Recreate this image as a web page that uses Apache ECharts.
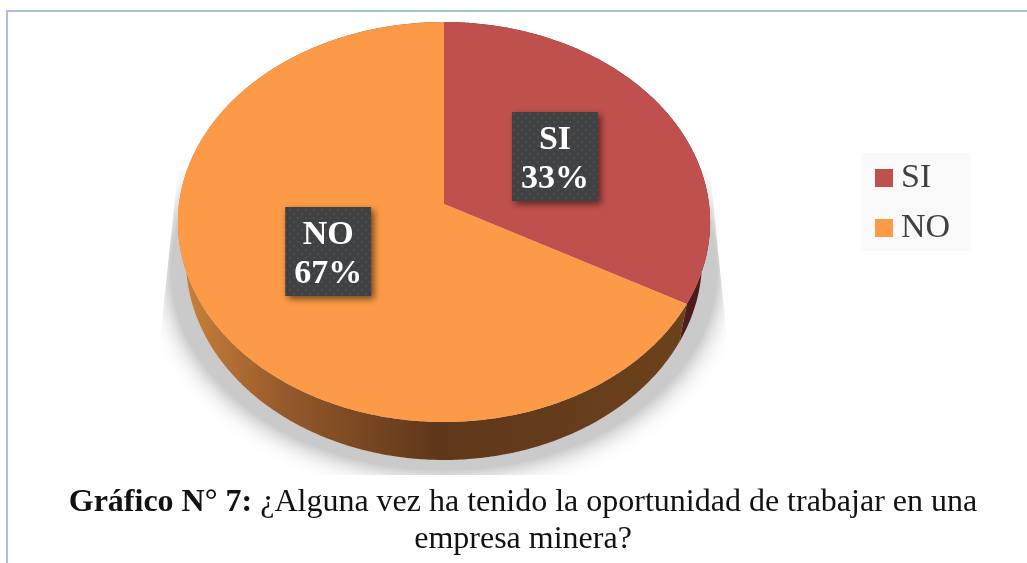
<!DOCTYPE html>
<html>
<head>
<meta charset="utf-8">
<style>
  html, body { margin: 0; padding: 0; background: #fff; }
  #main { width: 1027px; height: 563px; }
</style>
<script src="https://cdn.jsdelivr.net/npm/echarts@6/dist/echarts.min.js"></script>
</head>
<body>
<div id="main"></div>
<script>
// datos
const categories = ['SI', 'NO'];
const percentValues = [33, 67];
const sliceColors = ['#c0504d', '#fd9a47'];
const captionBold = 'Gráfico N° 7:';
const captionLine1 = '¿Alguna vez ha tenido la oportunidad de trabajar en una';
const captionLine2 = 'empresa minera?';

const total = percentValues.reduce(function (a, b) { return a + b; }, 0);
const SERIF = '"Liberation Serif", "Times New Roman", serif';

// pastel inclinado: circulo unidad proyectado con perspectiva
const cx = 444, apexY = 204, scaleX = 265, scaleY = 180, persp = 0.09;
const depth = 38, lowerScaleX = 257;

function project(u, v, sx, dy) {
    let d = 1 - persp * v;
    return [cx + sx * u / d, apexY + dy + scaleY * v / d + 204 * (1 / d - 1)];
}
function rim(t, sx, dy) {
    return project(Math.sin(t), -Math.cos(t), sx, dy);
}
function arcPoints(t0, t1, sx, dy) {
    let pts = [];
    let n = Math.ceil((t1 - t0) / 0.01);
    for (let i = 0; i <= n; i++) {
        pts.push(rim(t0 + (t1 - t0) * i / n, sx, dy));
    }
    return pts;
}

// trama de puntos de las etiquetas
function dotPattern() {
    let c = document.createElement('canvas');
    c.width = 8; c.height = 8;
    let g = c.getContext('2d');
    g.fillStyle = '#404142';
    g.fillRect(0, 0, 8, 8);
    g.fillStyle = '#505153';
    g.beginPath(); g.arc(2, 2, 1.1, 0, Math.PI * 2); g.fill();
    g.beginPath(); g.arc(6, 6, 1.1, 0, Math.PI * 2); g.fill();
    return c;
}
const pattern = dotPattern();

const sideFills = [
    { type: 'linear', x: 660, y: 0, x2: 710, y2: 0, global: true, colorStops: [
        { offset: 0, color: '#5a2020' }, { offset: 1, color: '#471818' }] },
    { type: 'linear', x: 185, y: 0, x2: 690, y2: 0, global: true, colorStops: [
        { offset: 0, color: '#c8803b' }, { offset: 0.2, color: '#94592a' },
        { offset: 0.5, color: '#5f371a' }, { offset: 1, color: '#6c421c' }] }
];

function sliceItem(index) {
    return function (params, api) {
        let start = 0;
        for (let i = 0; i < index; i++) start += percentValues[i];
        let t0 = start / total * Math.PI * 2;
        let t1 = (start + api.value(0)) / total * Math.PI * 2;
        let mid = (t0 + t1) / 2;
        let top = arcPoints(t0, t1, scaleX, 0);
        let low = arcPoints(t0, t1, lowerScaleX, depth);
        let labelPos = project(0.497 * Math.sin(mid), -0.47 * Math.cos(mid), scaleX, -1);
        let boxW = 86, boxH = 89;
        return {
            type: 'group',
            children: [
                {
                    type: 'polygon',
                    z2: 1,
                    shape: { points: top.concat(low.slice().reverse()) },
                    style: { fill: sideFills[index] }
                },
                {
                    type: 'polygon',
                    z2: 2,
                    shape: { points: [project(0, 0, scaleX, 0)].concat(top) },
                    style: { fill: sliceColors[index] }
                },
                {
                    type: 'rect',
                    z2: 3,
                    shape: { x: labelPos[0] - boxW / 2, y: labelPos[1] - boxH / 2, width: boxW, height: boxH },
                    style: {
                        fill: { image: pattern, repeat: 'repeat' },
                        shadowBlur: 7, shadowColor: 'rgba(0,0,0,0.55)', shadowOffsetX: 3, shadowOffsetY: 3
                    }
                },
                {
                    type: 'text',
                    z2: 4,
                    x: labelPos[0], y: labelPos[1] + 3,
                    style: {
                        text: categories[index] + '\n' + api.value(0) + '%',
                        fill: '#fff', font: 'bold 34px ' + SERIF, lineHeight: 39,
                        align: 'center', verticalAlign: 'middle'
                    }
                }
            ]
        };
    };
}

// sombra difusa bajo el pastel
function shadowItem() {
    let base = arcPoints(0, Math.PI * 2, 272, 48);
    return {
        type: 'polygon',
        z2: 0,
        shape: { points: base },
        style: { fill: '#cacaca', shadowBlur: 26, shadowColor: 'rgba(0,0,0,0.42)' },
        clipPath: {
            type: 'polygon',
            shape: { points: [[178, 170], [710, 170], [727, 340], [727, 475], [160, 475], [160, 340]] }
        }
    };
}

let myChart = echarts.init(document.getElementById('main'));
let option = {
    animation: false,
    backgroundColor: '#fff',
    title: {
        left: 518, top: 479,
        textAlign: 'center',
        text: '{b|' + captionBold + '} ' + captionLine1 + '\n' + captionLine2,
        textStyle: {
            fontFamily: SERIF, fontSize: 32, fontWeight: 'normal', color: '#111', lineHeight: 37,
            rich: { b: { fontFamily: SERIF, fontSize: 32, fontWeight: 'bold', color: '#111', lineHeight: 37 } }
        }
    },
    legend: {
        data: categories,
        left: 861, top: 153,
        orient: 'vertical',
        icon: 'rect',
        itemWidth: 18, itemHeight: 18,
        itemGap: 16,
        padding: [8, 21, 6, 14],
        backgroundColor: '#f9f9f9',
        textStyle: { fontFamily: SERIF, fontSize: 34, color: '#404040', padding: [0, 0, 0, 3] }
    },
    graphic: [
        { type: 'polyline', z: -1, shape: { points: [[7, 563], [7, 11], [1027, 11]] },
          style: { fill: null, stroke: '#a9c2df', lineWidth: 2 } }
    ],
    series: [
        { type: 'custom', name: 'sombra', coordinateSystem: 'none', silent: true, data: [[0]], renderItem: shadowItem },
        { type: 'custom', name: categories[0], coordinateSystem: 'none', silent: true,
          itemStyle: { color: sliceColors[0] }, data: [[percentValues[0]]], renderItem: sliceItem(0) },
        { type: 'custom', name: categories[1], coordinateSystem: 'none', silent: true,
          itemStyle: { color: sliceColors[1] }, data: [[percentValues[1]]], renderItem: sliceItem(1) }
    ]
};
myChart.setOption(option);
window.addEventListener('resize', function () {
    myChart.resize();
});
</script>
</body>
</html>
